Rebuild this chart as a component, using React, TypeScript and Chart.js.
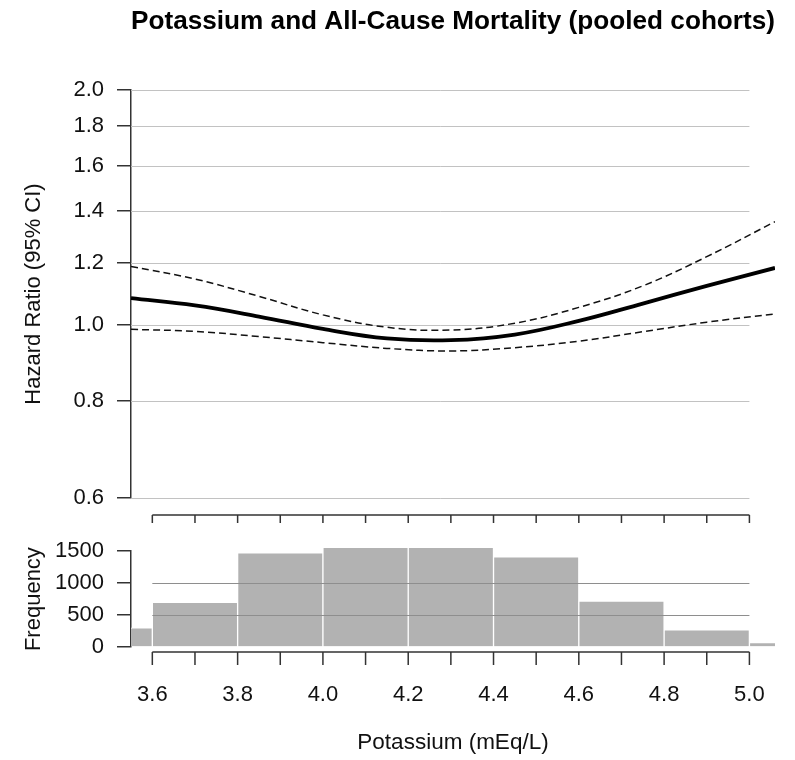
import React, { useEffect, useRef } from "react";
import { Chart, registerables } from "chart.js";
Chart.register(...registerables);

const FONT = '"Liberation Sans", Arial, sans-serif';
const TITLE = "Potassium and All-Cause Mortality (pooled cohorts)";

// Top panel: spline of hazard ratio with 95% CI
const potassium = [3.55, 3.7, 3.85, 4.0, 4.15, 4.3, 4.45, 4.6, 4.75, 4.9, 5.06];
const hazardRatio = [1.082, 1.059, 1.025, 0.988, 0.961, 0.956, 0.972, 1.012, 1.065, 1.122, 1.183];
const upperCI = [1.188, 1.145, 1.088, 1.03, 0.993, 0.985, 1.005, 1.053, 1.122, 1.223, 1.356];
const lowerCI = [0.987, 0.981, 0.966, 0.949, 0.933, 0.926, 0.935, 0.953, 0.98, 1.008, 1.033];

// Bottom panel: histogram of potassium (bin centres, width 0.2)
const binCenters = [3.5, 3.7, 3.9, 4.1, 4.3, 4.5, 4.7, 4.9, 5.1];
const binCounts = [300, 700, 1475, 1560, 1560, 1410, 720, 270, 70];

const hrTicks = [0.6, 0.8, 1.0, 1.2, 1.4, 1.6, 1.8, 2.0];
const freqTicks = [0, 500, 1000, 1500];
const freqGrid = [500, 1000];
const kMinorTicks = [3.6, 3.7, 3.8, 3.9, 4.0, 4.1, 4.2, 4.3, 4.4, 4.5, 4.6, 4.7, 4.8, 4.9, 5.0];
const kLabelTicks = [3.6, 3.8, 4.0, 4.2, 4.4, 4.6, 4.8, 5.0];
const kMin = 3.55;
const kMax = 5.06;

const AXIS = "#333";

function drawRAxis(chart: any, yPos: number, tickLen: number) {
  const { ctx, scales } = chart;
  const x = scales.x;
  const x0 = x.getPixelForValue(kMinorTicks[0]);
  const x1 = x.getPixelForValue(kMinorTicks[kMinorTicks.length - 1]);
  ctx.save();
  ctx.strokeStyle = AXIS;
  ctx.lineWidth = 1.5;
  ctx.beginPath();
  ctx.moveTo(x0, yPos);
  ctx.lineTo(x1, yPos);
  kMinorTicks.forEach((v) => {
    const px = x.getPixelForValue(v);
    ctx.moveTo(px, yPos);
    ctx.lineTo(px, yPos + tickLen);
  });
  ctx.stroke();
  ctx.restore();
}

const topPlugin = {
  id: "topPanel",
  beforeDatasetsDraw(chart: any) {
    const { ctx, chartArea, scales } = chart;
    const xEnd = scales.x.getPixelForValue(kMinorTicks[kMinorTicks.length - 1]);
    ctx.save();
    ctx.strokeStyle = "#c2c2c2";
    ctx.lineWidth = 1;
    hrTicks.forEach((v) => {
      const py = Math.round(scales.y.getPixelForValue(v)) + 0.5;
      ctx.beginPath();
      ctx.moveTo(chartArea.left, py);
      ctx.lineTo(xEnd, py);
      ctx.stroke();
    });
    ctx.restore();
  },
  afterDraw(chart: any) {
    drawRAxis(chart, chart.chartArea.bottom + 17, 8);
  },
};

const histPlugin = {
  id: "histPanel",
  afterDatasetsDraw(chart: any) {
    const { ctx, scales } = chart;
    const x0 = scales.x.getPixelForValue(kMinorTicks[0]);
    const x1 = scales.x.getPixelForValue(kMinorTicks[kMinorTicks.length - 1]);
    ctx.save();
    ctx.strokeStyle = "#8e8e8e";
    ctx.lineWidth = 1.2;
    freqGrid.forEach((v) => {
      const py = Math.round(scales.y.getPixelForValue(v)) + 0.5;
      ctx.beginPath();
      ctx.moveTo(x0, py);
      ctx.lineTo(x1, py);
      ctx.stroke();
    });
    ctx.restore();
  },
  afterDraw(chart: any) {
    drawRAxis(chart, chart.chartArea.bottom + 5, 13);
  },
};

export default function App() {
  const topRef = useRef<HTMLCanvasElement>(null);
  const botRef = useRef<HTMLCanvasElement>(null);

  useEffect(() => {
    const lineData = (ys: number[]) => potassium.map((x, i) => ({ x, y: ys[i] }));
    const top = new Chart(topRef.current as HTMLCanvasElement, {
      type: "line",
      data: {
        datasets: [
          {
            data: lineData(upperCI),
            borderColor: "#111",
            borderWidth: 1.5,
            borderDash: [7, 4],
            pointRadius: 0,
            tension: 0.4,
            fill: false,
          },
          {
            data: lineData(lowerCI),
            borderColor: "#111",
            borderWidth: 1.5,
            borderDash: [7, 4],
            pointRadius: 0,
            tension: 0.4,
            fill: false,
          },
          {
            data: lineData(hazardRatio),
            borderColor: "#000",
            borderWidth: 3.8,
            pointRadius: 0,
            tension: 0.4,
            fill: false,
          },
        ],
      },
      options: {
        responsive: false,
        animation: false,
        layout: { padding: { left: 0, right: 20, top: 0, bottom: 27 } },
        plugins: {
          legend: { display: false },
          tooltip: { enabled: false },
          title: {
            display: true,
            text: TITLE,
            fullSize: false,
            color: "#000",
            font: { family: FONT, size: 26.5, weight: "bold" },
            padding: { top: 6, bottom: 52.2 },
          },
        },
        scales: {
          x: { type: "linear", min: kMin, max: kMax, display: false },
          y: {
            type: "logarithmic",
            min: 0.6,
            max: 2.0,
            afterBuildTicks: (s: any) => {
              s.ticks = hrTicks.map((v) => ({ value: v }));
            },
            afterFit: (s: any) => {
              s.width = 131;
            },
            grid: {
              display: true,
              drawOnChartArea: false,
              drawTicks: true,
              tickLength: 14,
              color: AXIS,
              lineWidth: 1.5,
            },
            border: { display: true, color: AXIS, width: 1.5 },
            ticks: {
              autoSkip: false,
              color: "#111",
              font: { family: FONT, size: 22 },
              padding: 13,
              callback: (v: any) => Number(v).toFixed(1),
            },
            title: {
              display: true,
              text: "Hazard Ratio (95% CI)",
              color: "#111",
              font: { family: FONT, size: 22 },
              padding: { top: 21, bottom: 0 },
            },
          },
        },
      } as any,
      plugins: [topPlugin],
    });

    const hist = new Chart(botRef.current as HTMLCanvasElement, {
      type: "bar",
      data: {
        datasets: [
          {
            data: binCenters.map((x, i) => ({ x, y: binCounts[i] })),
            backgroundColor: "#b2b2b2",
            borderColor: "#ffffff",
            borderWidth: 1,
            barPercentage: 1,
            categoryPercentage: 1,
            clip: { left: 0, right: 0, top: false, bottom: 0 },
          } as any,
        ],
      },
      options: {
        responsive: false,
        animation: false,
        layout: { padding: { left: 0, right: 20, top: 21, bottom: 0 } },
        plugins: { legend: { display: false }, tooltip: { enabled: false } },
        scales: {
          x: {
            type: "linear",
            min: kMin,
            max: kMax,
            offset: false,
            afterBuildTicks: (s: any) => {
              s.ticks = kLabelTicks.map((v) => ({ value: v }));
            },
            afterFit: (s: any) => {
              s.height = 113;
            },
            grid: { display: false, offset: false, drawTicks: true, tickLength: 18 },
            border: { display: false },
            ticks: {
              autoSkip: false,
              maxRotation: 0,
              color: "#111",
              font: { family: FONT, size: 22 },
              padding: 17,
              callback: (v: any) => Number(v).toFixed(1),
            },
            title: {
              display: true,
              text: "Potassium (mEq/L)",
              color: "#111",
              font: { family: FONT, size: 22.5 },
              padding: { top: 0, bottom: 4 },
            },
          },
          y: {
            type: "linear",
            min: 0,
            max: 1500,
            afterBuildTicks: (s: any) => {
              s.ticks = freqTicks.map((v) => ({ value: v }));
            },
            afterFit: (s: any) => {
              s.width = 131;
            },
            grid: {
              display: true,
              drawOnChartArea: false,
              drawTicks: true,
              tickLength: 14,
              color: AXIS,
              lineWidth: 1.5,
            },
            border: { display: true, color: AXIS, width: 1.5 },
            ticks: {
              autoSkip: false,
              color: "#111",
              font: { family: FONT, size: 22 },
              padding: 13,
              callback: (v: any) => String(v),
            },
            title: {
              display: true,
              text: "Frequency",
              color: "#111",
              font: { family: FONT, size: 22 },
              padding: { top: 21, bottom: 0 },
            },
          },
        },
      } as any,
      plugins: [histPlugin],
    });

    return () => {
      top.destroy();
      hist.destroy();
    };
  }, []);

  return (
    <div style={{ position: "absolute", left: 0, top: 0, width: 795, height: 760, background: "#fff" }}>
      <canvas
        ref={topRef}
        width={795}
        height={525}
        style={{ position: "absolute", left: 0, top: 0, width: 795, height: 525 }}
      />
      <canvas
        ref={botRef}
        width={795}
        height={235}
        style={{ position: "absolute", left: 0, top: 525, width: 795, height: 235 }}
      />
    </div>
  );
}
